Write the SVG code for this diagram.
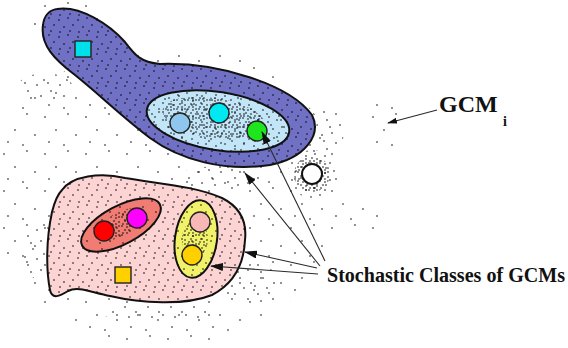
<svg xmlns="http://www.w3.org/2000/svg" width="568" height="348" viewBox="0 0 568 348">
<style>
.o{stroke:#111;stroke-width:2;fill:none}
.c{stroke:#222;stroke-width:1.4}
.d{fill:none;stroke:#000;stroke-width:1.6;stroke-linecap:round}
.ar{stroke:#2a2a2a;stroke-width:1.1;fill:none}
text{font-family:"Liberation Serif","Times New Roman",serif;font-weight:bold;fill:#111}
</style>
<defs>
<pattern id="pbg" width="41" height="37" patternUnits="userSpaceOnUse"><path class="d" d="M4,6h.01M27,3h.01M15,19h.01M35,24h.01M8,31h.01M23,34h.01"/></pattern>
<pattern id="pmed" width="19" height="17" patternUnits="userSpaceOnUse"><path class="d" d="M2,3h.01M11,1h.01M16,8h.01M7,10h.01M13,14h.01M3,15h.01"/></pattern>
<pattern id="pmed2" width="23" height="29" patternUnits="userSpaceOnUse"><path class="d" d="M5,4h.01M18,9h.01M10,17h.01M21,22h.01M2,25h.01M14,27h.01M8,11h.01"/></pattern>
<pattern id="pdense" width="11" height="9" patternUnits="userSpaceOnUse"><path class="d" d="M1,1h.01M6,2h.01M9,6h.01M4,5h.01M2,8h.01M9,1h.01M6,8h.01"/></pattern>
<path id="blueShape" d="M57,9C80,5 110,25 125,42C135,55 140,62 160,64C220,62 290,85 312,115C322,135 305,158 270,165C225,172 180,160 150,138C120,115 100,95 75,75C55,60 40,45 43,25C44,15 50,10 57,9Z"/>
<ellipse id="innerShape" cx="218" cy="121" rx="72" ry="29" transform="rotate(9 218 121)"/>
<path id="pinkShape" d="M62,190C72,176 100,172 125,178C160,184 195,186 222,198C240,207 247,222 245,240C244,262 235,283 212,295C185,306 140,303 110,296C90,292 78,286 68,291C60,296 52,300 50,290C46,270 46,240 52,212C55,200 58,194 62,190Z"/>
<ellipse id="redShape" cx="121" cy="225" rx="44" ry="19" transform="rotate(-28 121 225)"/>
<ellipse id="yellowShape" cx="196" cy="239" rx="21" ry="39" transform="rotate(8 196 239)"/>
<clipPath id="cBlue"><use href="#blueShape"/></clipPath>
<clipPath id="cInner"><use href="#innerShape"/></clipPath>
<clipPath id="cInnerCore"><ellipse cx="214" cy="118" rx="52" ry="20" transform="rotate(9 214 118)"/></clipPath>
<clipPath id="cPink"><use href="#pinkShape"/></clipPath>
<clipPath id="cRed"><use href="#redShape"/></clipPath>
<clipPath id="cRedCore"><ellipse cx="121" cy="224" rx="26" ry="12" transform="rotate(-28 121 224)"/></clipPath>
<clipPath id="cYellow"><use href="#yellowShape"/></clipPath>
<clipPath id="cYellowCore"><ellipse cx="195" cy="239" rx="13" ry="18"/></clipPath>
<clipPath id="cBg">
<ellipse cx="165" cy="195" rx="178" ry="150"/>
<ellipse cx="65" cy="20" rx="45" ry="20"/>
<ellipse cx="383" cy="122" rx="20" ry="28"/>
<ellipse cx="358" cy="218" rx="22" ry="20"/>
</clipPath>
<clipPath id="cMed">
<ellipse cx="45" cy="88" rx="28" ry="15"/>
<ellipse cx="220" cy="178" rx="42" ry="12"/>
<ellipse cx="252" cy="282" rx="24" ry="22"/>
<ellipse cx="40" cy="250" rx="18" ry="30"/>
<ellipse cx="330" cy="130" rx="14" ry="25"/>
<ellipse cx="160" cy="312" rx="60" ry="10"/>
</clipPath>
<clipPath id="cWhiteRing"><circle cx="312" cy="174" r="18"/></clipPath>
<clipPath id="cWhiteOuter"><circle cx="312" cy="174" r="24"/></clipPath>
<marker id="ah" viewBox="0 0 13 8" refX="12" refY="4" markerWidth="13" markerHeight="8" markerUnits="userSpaceOnUse" orient="auto"><path d="M0,0L13,4L0,8z" fill="#111"/></marker>
<marker id="ahs" viewBox="0 0 10 6" refX="9" refY="3" markerWidth="10" markerHeight="6" markerUnits="userSpaceOnUse" orient="auto"><path d="M0,0L10,3L0,6z" fill="#111"/></marker>
</defs>

<g id="background-scatter">
<rect width="568" height="348" fill="#fff"/>
<rect width="568" height="348" fill="url(#pbg)" clip-path="url(#cBg)"/>
<rect width="568" height="348" fill="url(#pmed2)" clip-path="url(#cMed)"/>
<rect width="568" height="348" fill="url(#pdense)" clip-path="url(#cWhiteRing)"/>
<rect width="568" height="348" fill="url(#pmed)" clip-path="url(#cWhiteOuter)"/>
</g>

<g id="class-blue">
<use href="#blueShape" fill="#7070c4"/>
<rect width="568" height="348" fill="url(#pmed)" clip-path="url(#cBlue)"/>
<use href="#blueShape" class="o"/>
</g>

<g id="class-lightblue">
<use href="#innerShape" fill="#c2e6f8"/>
<rect width="568" height="348" fill="url(#pmed)" clip-path="url(#cInner)"/>
<rect width="568" height="348" fill="url(#pmed2)" clip-path="url(#cInner)"/>
<rect width="568" height="348" fill="url(#pdense)" clip-path="url(#cInnerCore)"/>
<use href="#innerShape" class="o"/>
</g>

<g id="gcm-cyan-square"><rect x="75" y="41" width="16" height="16" fill="#00e0ea" class="c"/></g>
<g id="gcm-lightblue"><circle cx="180" cy="123" r="10" fill="#8ec6ee" class="c"/></g>
<g id="gcm-cyan"><circle cx="219" cy="113" r="10" fill="#00e8f2" class="c"/></g>
<g id="gcm-green"><circle cx="257" cy="131" r="10" fill="#1ee61e" class="c"/></g>
<g id="gcm-white"><circle cx="312" cy="174" r="10" fill="#fff" stroke="#111" stroke-width="2"/></g>

<g id="class-pink">
<use href="#pinkShape" fill="#fdd4d4"/>
<rect width="568" height="348" fill="url(#pmed)" clip-path="url(#cPink)"/>
<use href="#pinkShape" class="o"/>
</g>

<g id="class-red">
<use href="#redShape" fill="#f07c74"/>
<rect width="568" height="348" fill="url(#pmed2)" clip-path="url(#cRed)"/>
<rect width="568" height="348" fill="url(#pdense)" clip-path="url(#cRedCore)"/>
<use href="#redShape" class="o"/>
</g>

<g id="class-yellow">
<use href="#yellowShape" fill="#f2f26a"/>
<rect width="568" height="348" fill="url(#pmed)" clip-path="url(#cYellow)"/>
<rect width="568" height="348" fill="url(#pdense)" clip-path="url(#cYellowCore)"/>
<use href="#yellowShape" class="o"/>
</g>

<g id="gcm-red"><circle cx="104" cy="231" r="10" fill="#ff0000" class="c"/></g>
<g id="gcm-magenta"><circle cx="137" cy="218" r="10" fill="#ff00ff" class="c"/></g>
<g id="gcm-pink"><circle cx="200" cy="222" r="10" fill="#f9b8b8" class="c"/></g>
<g id="gcm-gold"><circle cx="192" cy="255" r="10" fill="#ffd000" class="c"/></g>
<g id="gcm-gold-square"><rect x="115" y="267" width="16" height="16" fill="#ffd000" class="c"/></g>

<g id="connectors">
<line class="ar" x1="325" y1="261" x2="262" y2="132" marker-end="url(#ah)"/>
<line class="ar" x1="320" y1="266" x2="245" y2="173" marker-end="url(#ah)"/>
<line class="ar" x1="317" y1="268" x2="245" y2="252" marker-end="url(#ah)"/>
<line class="ar" x1="318" y1="274" x2="211" y2="266" marker-end="url(#ah)"/>
<line class="ar" x1="437" y1="110" x2="388" y2="123" marker-end="url(#ahs)"/>
</g>

<g id="labels">
<text x="439" y="112" font-size="24">GCM</text>
<text x="503" y="126" font-size="14">i</text>
<text x="327" y="282" font-size="20" textLength="238" lengthAdjust="spacingAndGlyphs">Stochastic Classes of GCMs</text>
</g>
</svg>
